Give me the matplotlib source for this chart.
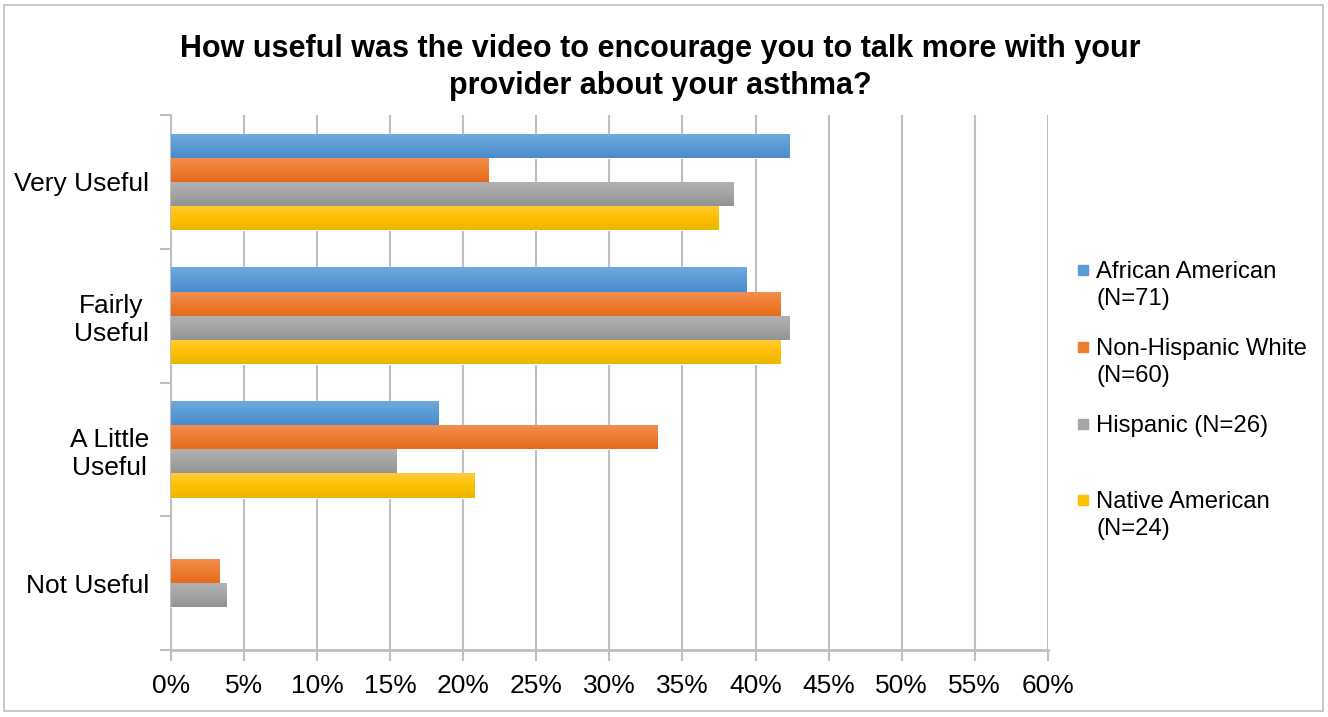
import numpy as np
import matplotlib.pyplot as plt
from matplotlib.colors import LinearSegmentedColormap
from matplotlib.patches import Rectangle

plt.rcParams['font.family'] = ['Liberation Sans', 'DejaVu Sans']

# données (en %)
categories = ["Very Useful", "Fairly\nUseful", "A Little\nUseful", "Not Useful"]
groups = ["African American\n(N=71)", "Non-Hispanic White\n(N=60)",
          "Hispanic (N=26)", "Native American\n(N=24)"]
african_american = [42.3, 39.4, 18.3, 0.0]
non_hispanic_white = [21.7, 41.7, 33.3, 3.3]
hispanic = [38.5, 42.3, 15.4, 3.8]
native_american = [37.5, 41.7, 20.8, 0.0]

series = [african_american, non_hispanic_white, hispanic, native_american]
colors = ["#5B9BD5", "#ED7D31", "#A5A5A5", "#FFC000"]
# dégradé : haut clair / bas foncé
grads = [("#70AAE0", "#4A8BCC"), ("#F39053", "#E56A1C"),
         ("#B2B2B2", "#939393"), ("#FFCB3A", "#EBB700")]

fig = plt.figure(figsize=(13.28, 7.17), dpi=100)
ax = fig.add_axes([0.1288, 0.0934, 0.6602, 0.7462])

ypos = np.arange(len(categories))[::-1]  # Very Useful en haut
h = 0.18
offsets = [1.5 * h, 0.5 * h, -0.5 * h, -1.5 * h]

for vals, col, g, off in zip(series, colors, grads, offsets):
    ec = ["white" if v > 0 else "none" for v in vals]
    bars = ax.barh(ypos + off, vals, height=h, color=col, edgecolor=ec,
                   linewidth=0.8, zorder=3)
    cmap = LinearSegmentedColormap.from_list("g", [g[1], col, g[0]])
    for b, v, y in zip(bars, vals, ypos + off):
        if v <= 0:
            continue
        im = ax.imshow(np.linspace(0, 1, 50).reshape(-1, 1), cmap=cmap,
                       extent=[0, v, y - h / 2, y + h / 2], origin="lower",
                       aspect="auto", zorder=3.5)
        im.set_clip_path(b)

ax.set_xlim(0, 60)
ax.set_ylim(-0.5, 3.5)
ax.set_xticks(np.arange(0, 61, 5))
ax.set_xticklabels([f"{x}%" for x in range(0, 61, 5)], fontsize=19)
ax.set_yticks(ypos)
ax.set_yticklabels(categories, fontsize=19, multialignment="center")
ax.tick_params(axis="y", length=0, pad=16)
ax.tick_params(axis="x", length=8, color="#BFBFBF", width=1.5, pad=9)

# petits traits de séparation sur l'axe vertical
ax.set_yticks(np.arange(-0.5, 4, 1), minor=True)
ax.tick_params(axis="y", which="minor", length=8, color="#BFBFBF", width=1.5)

ax.grid(axis="x", color="#BFBFBF", linewidth=1.5, zorder=0)
for s in ["top", "right"]:
    ax.spines[s].set_visible(False)
ax.spines["left"].set_color("#BFBFBF")
ax.spines["left"].set_linewidth(1.5)
ax.spines["bottom"].set_color("#BFBFBF")
ax.spines["bottom"].set_linewidth(2)

fig.text(0.497, 0.906, "How useful was the video to encourage you to talk more with your\nprovider about your asthma?",
         ha="center", va="center", fontsize=22, fontweight="bold", linespacing=1.3)

# légende faite à la main (premier ligne alignée avec le carré)
leg_y = [270, 347, 424, 500]
for lab, col, yy in zip(groups, colors, leg_y):
    yf = 1 - yy / 717
    fig.patches.append(Rectangle((1078 / 1328, yf - 5 / 717), 10 / 1328, 10 / 717,
                                 transform=fig.transFigure, color=col))
    fig.text(1096 / 1328, yf + 9 / 717, lab, ha="left", va="top", fontsize=17.2,
             linespacing=1.3)

fig.patches.append(Rectangle((0.003, 0.008), 0.993, 0.985, transform=fig.transFigure,
                             fill=False, edgecolor="#BFBFBF", linewidth=1.2))

fig.savefig("out.png", dpi=100)
